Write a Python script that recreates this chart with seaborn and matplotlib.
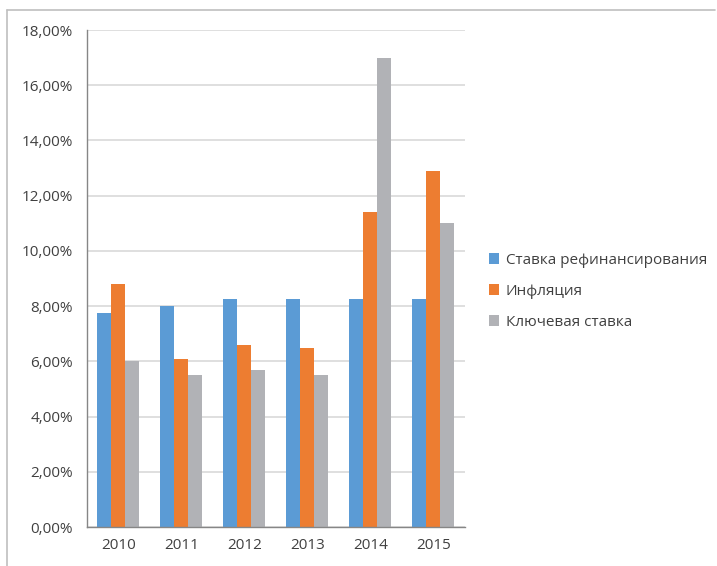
import pandas as pd
import seaborn as sns
import matplotlib.pyplot as plt
from matplotlib.ticker import FuncFormatter, FixedLocator
from matplotlib.lines import Line2D

# Data (percent)
years = ["2010", "2011", "2012", "2013", "2014", "2015"]
refinancing = [7.75, 8.0, 8.25, 8.25, 8.25, 8.25]
inflation = [8.8, 6.1, 6.6, 6.5, 11.4, 12.9]
key_rate = [6.0, 5.5, 5.7, 5.5, 17.0, 11.0]
series_names = ["Ставка рефинансирования", "Инфляция", "Ключевая ставка"]

df = pd.DataFrame({
    "year": years * 3,
    "value": refinancing + inflation + key_rate,
    "series": [series_names[0]] * 6 + [series_names[1]] * 6 + [series_names[2]] * 6,
})

sns.set_style("white")
plt.rcParams['font.family'] = ['Open Sans', 'DejaVu Sans']

colors = ["#5B9BD5", "#ED7D31", "#B1B2B6"]

fig = plt.figure(figsize=(7.17, 5.66), dpi=100)
ax = fig.add_axes([0.1213, 0.0689, 0.527, 0.878])

sns.barplot(data=df, x="year", y="value", hue="series", palette=colors,
            width=0.667, gap=0, saturation=1, linewidth=0, ax=ax, legend=True)

ax.set_xlim(-0.5, 5.5)
ax.set_ylim(0, 18)
ax.yaxis.set_major_locator(FixedLocator([0, 2, 4, 6, 8, 10, 12, 14, 16, 18]))
ax.yaxis.set_major_formatter(FuncFormatter(lambda v, p: f"{v:.2f}%".replace(".", ",")))
ax.grid(axis="y", color="#D9D9D9", linewidth=1.2)
ax.set_axisbelow(True)

# ticks at category boundaries
ax.set_xticks([i - 0.5 for i in range(7)], minor=True)
ax.tick_params(axis="x", which="major", length=0, pad=8, labelsize=11, labelcolor="#404040")
ax.tick_params(axis="x", which="minor", length=5, color="#868686", width=1)
ax.tick_params(axis="y", length=6, color="#868686", width=1, labelsize=11, labelcolor="#404040", pad=4)
ax.set_xlabel("")
ax.set_ylabel("")

for s in ["top", "right"]:
    ax.spines[s].set_visible(False)
for s in ["left", "bottom"]:
    ax.spines[s].set_color("#868686")
    ax.spines[s].set_linewidth(1)

leg = ax.legend(loc="center left", bbox_to_anchor=(1.027, 0.474), frameon=False,
                fontsize=11, handlelength=0.7, handleheight=0.7,
                handletextpad=0.4, labelspacing=1.05)
for t in leg.get_texts():
    t.set_color("#404040")

# chart area border (left and top)
fig.add_artist(Line2D([0.0098, 0.0098], [0, 0.982], color="#BFBFBF", linewidth=1.2))
fig.add_artist(Line2D([0.0098, 0.997], [0.982, 0.982], color="#BFBFBF", linewidth=1.2))

fig.savefig("out.png", dpi=100)
